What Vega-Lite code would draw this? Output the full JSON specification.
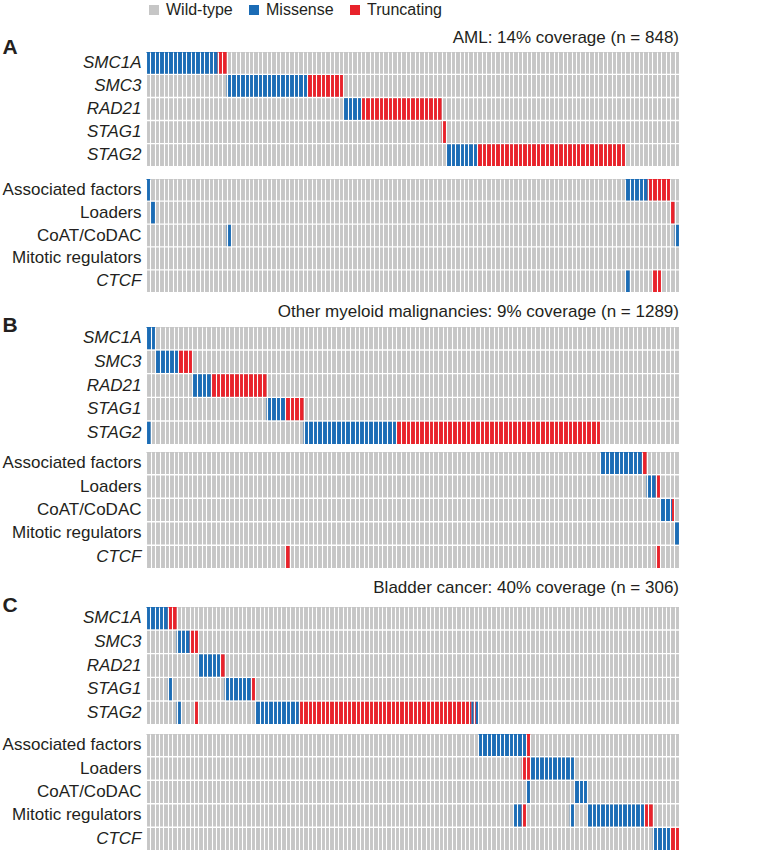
{
  "$schema": "https://vega.github.io/schema/vega-lite/v6.json",
  "padding": {"left": 2, "top": 2, "right": 2, "bottom": 0},
  "background": "white",
  "config": {
    "font": "Liberation Sans",
    "view": {"stroke": null},
    "title": {"font": "Liberation Sans", "fontSize": 17, "fontWeight": "normal", "anchor": "end", "frame": "group", "color": "#231f20"},
    "axisX": {"labels": false, "ticks": false, "domain": false, "title": null, "grid": true, "gridColor": "white", "gridWidth": 1.1, "gridOpacity": 1},
    "axisY": {"domain": false, "ticks": false, "labelFontSize": 17, "labelPadding": 5, "labelColor": "#231f20", "labelFont": "Liberation Sans"},
    "legend": {"orient": "top", "direction": "horizontal", "title": null, "symbolType": "square", "symbolSize": 100, "symbolStrokeWidth": 0, "labelFontSize": 16, "labelFont": "Liberation Sans", "labelColor": "#231f20", "columnPadding": 13, "labelOffset": 4, "offset": 11}
  },
  "datasets": {
    "cells": [
      {"p": "A", "b": 1, "row": "SMC1A", "start": 0, "end": 119, "type": "Wild-type"},
      {"p": "A", "b": 1, "row": "SMC3", "start": 0, "end": 119, "type": "Wild-type"},
      {"p": "A", "b": 1, "row": "RAD21", "start": 0, "end": 119, "type": "Wild-type"},
      {"p": "A", "b": 1, "row": "STAG1", "start": 0, "end": 119, "type": "Wild-type"},
      {"p": "A", "b": 1, "row": "STAG2", "start": 0, "end": 119, "type": "Wild-type"},
      {"p": "A", "b": 2, "row": "Associated factors", "start": 0, "end": 119, "type": "Wild-type"},
      {"p": "A", "b": 2, "row": "Loaders", "start": 0, "end": 119, "type": "Wild-type"},
      {"p": "A", "b": 2, "row": "CoAT/CoDAC", "start": 0, "end": 119, "type": "Wild-type"},
      {"p": "A", "b": 2, "row": "Mitotic regulators", "start": 0, "end": 119, "type": "Wild-type"},
      {"p": "A", "b": 2, "row": "CTCF", "start": 0, "end": 119, "type": "Wild-type"},
      {"p": "B", "b": 1, "row": "SMC1A", "start": 0, "end": 115, "type": "Wild-type"},
      {"p": "B", "b": 1, "row": "SMC3", "start": 0, "end": 115, "type": "Wild-type"},
      {"p": "B", "b": 1, "row": "RAD21", "start": 0, "end": 115, "type": "Wild-type"},
      {"p": "B", "b": 1, "row": "STAG1", "start": 0, "end": 115, "type": "Wild-type"},
      {"p": "B", "b": 1, "row": "STAG2", "start": 0, "end": 115, "type": "Wild-type"},
      {"p": "B", "b": 2, "row": "Associated factors", "start": 0, "end": 115, "type": "Wild-type"},
      {"p": "B", "b": 2, "row": "Loaders", "start": 0, "end": 115, "type": "Wild-type"},
      {"p": "B", "b": 2, "row": "CoAT/CoDAC", "start": 0, "end": 115, "type": "Wild-type"},
      {"p": "B", "b": 2, "row": "Mitotic regulators", "start": 0, "end": 115, "type": "Wild-type"},
      {"p": "B", "b": 2, "row": "CTCF", "start": 0, "end": 115, "type": "Wild-type"},
      {"p": "C", "b": 1, "row": "SMC1A", "start": 0, "end": 122, "type": "Wild-type"},
      {"p": "C", "b": 1, "row": "SMC3", "start": 0, "end": 122, "type": "Wild-type"},
      {"p": "C", "b": 1, "row": "RAD21", "start": 0, "end": 122, "type": "Wild-type"},
      {"p": "C", "b": 1, "row": "STAG1", "start": 0, "end": 122, "type": "Wild-type"},
      {"p": "C", "b": 1, "row": "STAG2", "start": 0, "end": 122, "type": "Wild-type"},
      {"p": "C", "b": 2, "row": "Associated factors", "start": 0, "end": 122, "type": "Wild-type"},
      {"p": "C", "b": 2, "row": "Loaders", "start": 0, "end": 122, "type": "Wild-type"},
      {"p": "C", "b": 2, "row": "CoAT/CoDAC", "start": 0, "end": 122, "type": "Wild-type"},
      {"p": "C", "b": 2, "row": "Mitotic regulators", "start": 0, "end": 122, "type": "Wild-type"},
      {"p": "C", "b": 2, "row": "CTCF", "start": 0, "end": 122, "type": "Wild-type"},

      {"p": "A", "b": 1, "row": "SMC1A", "start": 0, "end": 16, "type": "Missense"},
      {"p": "A", "b": 1, "row": "SMC1A", "start": 16, "end": 18, "type": "Truncating"},
      {"p": "A", "b": 1, "row": "SMC3", "start": 18, "end": 36, "type": "Missense"},
      {"p": "A", "b": 1, "row": "SMC3", "start": 36, "end": 44, "type": "Truncating"},
      {"p": "A", "b": 1, "row": "RAD21", "start": 44, "end": 48, "type": "Missense"},
      {"p": "A", "b": 1, "row": "RAD21", "start": 48, "end": 66, "type": "Truncating"},
      {"p": "A", "b": 1, "row": "STAG1", "start": 66, "end": 67, "type": "Truncating"},
      {"p": "A", "b": 1, "row": "STAG2", "start": 67, "end": 74, "type": "Missense"},
      {"p": "A", "b": 1, "row": "STAG2", "start": 74, "end": 107, "type": "Truncating"},
      {"p": "A", "b": 2, "row": "Associated factors", "start": 0, "end": 1, "type": "Missense"},
      {"p": "A", "b": 2, "row": "Associated factors", "start": 107, "end": 112, "type": "Missense"},
      {"p": "A", "b": 2, "row": "Associated factors", "start": 112, "end": 117, "type": "Truncating"},
      {"p": "A", "b": 2, "row": "Loaders", "start": 1, "end": 2, "type": "Missense"},
      {"p": "A", "b": 2, "row": "Loaders", "start": 117, "end": 118, "type": "Truncating"},
      {"p": "A", "b": 2, "row": "CoAT/CoDAC", "start": 18, "end": 19, "type": "Missense"},
      {"p": "A", "b": 2, "row": "CoAT/CoDAC", "start": 118, "end": 119, "type": "Missense"},
      {"p": "A", "b": 2, "row": "CTCF", "start": 107, "end": 108, "type": "Missense"},
      {"p": "A", "b": 2, "row": "CTCF", "start": 113, "end": 115, "type": "Truncating"},

      {"p": "B", "b": 1, "row": "SMC1A", "start": 0, "end": 2, "type": "Missense"},
      {"p": "B", "b": 1, "row": "SMC3", "start": 2, "end": 7, "type": "Missense"},
      {"p": "B", "b": 1, "row": "SMC3", "start": 7, "end": 10, "type": "Truncating"},
      {"p": "B", "b": 1, "row": "RAD21", "start": 10, "end": 14, "type": "Missense"},
      {"p": "B", "b": 1, "row": "RAD21", "start": 14, "end": 26, "type": "Truncating"},
      {"p": "B", "b": 1, "row": "STAG1", "start": 26, "end": 30, "type": "Missense"},
      {"p": "B", "b": 1, "row": "STAG1", "start": 30, "end": 34, "type": "Truncating"},
      {"p": "B", "b": 1, "row": "STAG2", "start": 0, "end": 1, "type": "Missense"},
      {"p": "B", "b": 1, "row": "STAG2", "start": 34, "end": 54, "type": "Missense"},
      {"p": "B", "b": 1, "row": "STAG2", "start": 54, "end": 98, "type": "Truncating"},
      {"p": "B", "b": 2, "row": "Associated factors", "start": 98, "end": 107, "type": "Missense"},
      {"p": "B", "b": 2, "row": "Associated factors", "start": 107, "end": 108, "type": "Truncating"},
      {"p": "B", "b": 2, "row": "Loaders", "start": 108, "end": 110, "type": "Missense"},
      {"p": "B", "b": 2, "row": "Loaders", "start": 110, "end": 111, "type": "Truncating"},
      {"p": "B", "b": 2, "row": "CoAT/CoDAC", "start": 111, "end": 113.5, "type": "Missense"},
      {"p": "B", "b": 2, "row": "CoAT/CoDAC", "start": 113.5, "end": 114, "type": "Truncating"},
      {"p": "B", "b": 2, "row": "Mitotic regulators", "start": 114, "end": 115, "type": "Missense"},
      {"p": "B", "b": 2, "row": "CTCF", "start": 30, "end": 31, "type": "Truncating"},
      {"p": "B", "b": 2, "row": "CTCF", "start": 110, "end": 111, "type": "Truncating"},

      {"p": "C", "b": 1, "row": "SMC1A", "start": 0, "end": 5, "type": "Missense"},
      {"p": "C", "b": 1, "row": "SMC1A", "start": 5, "end": 7, "type": "Truncating"},
      {"p": "C", "b": 1, "row": "SMC3", "start": 7, "end": 10, "type": "Missense"},
      {"p": "C", "b": 1, "row": "SMC3", "start": 10, "end": 12, "type": "Truncating"},
      {"p": "C", "b": 1, "row": "RAD21", "start": 12, "end": 17, "type": "Missense"},
      {"p": "C", "b": 1, "row": "RAD21", "start": 17, "end": 18, "type": "Truncating"},
      {"p": "C", "b": 1, "row": "STAG1", "start": 5, "end": 6, "type": "Missense"},
      {"p": "C", "b": 1, "row": "STAG1", "start": 18, "end": 24, "type": "Missense"},
      {"p": "C", "b": 1, "row": "STAG1", "start": 24, "end": 25, "type": "Truncating"},
      {"p": "C", "b": 1, "row": "STAG2", "start": 7, "end": 8, "type": "Missense"},
      {"p": "C", "b": 1, "row": "STAG2", "start": 11, "end": 12, "type": "Truncating"},
      {"p": "C", "b": 1, "row": "STAG2", "start": 25, "end": 35, "type": "Missense"},
      {"p": "C", "b": 1, "row": "STAG2", "start": 35, "end": 74.5, "type": "Truncating"},
      {"p": "C", "b": 1, "row": "STAG2", "start": 74.5, "end": 75, "type": "Missense"},
      {"p": "C", "b": 1, "row": "STAG2", "start": 75, "end": 75.5, "type": "Truncating"},
      {"p": "C", "b": 1, "row": "STAG2", "start": 75.5, "end": 76, "type": "Missense"},
      {"p": "C", "b": 2, "row": "Associated factors", "start": 76, "end": 87, "type": "Missense"},
      {"p": "C", "b": 2, "row": "Associated factors", "start": 87, "end": 88, "type": "Truncating"},
      {"p": "C", "b": 2, "row": "Loaders", "start": 86, "end": 88, "type": "Truncating"},
      {"p": "C", "b": 2, "row": "Loaders", "start": 88, "end": 98, "type": "Missense"},
      {"p": "C", "b": 2, "row": "CoAT/CoDAC", "start": 87, "end": 88, "type": "Missense"},
      {"p": "C", "b": 2, "row": "CoAT/CoDAC", "start": 98, "end": 101, "type": "Missense"},
      {"p": "C", "b": 2, "row": "Mitotic regulators", "start": 84, "end": 86, "type": "Missense"},
      {"p": "C", "b": 2, "row": "Mitotic regulators", "start": 86, "end": 87, "type": "Truncating"},
      {"p": "C", "b": 2, "row": "Mitotic regulators", "start": 97, "end": 98, "type": "Missense"},
      {"p": "C", "b": 2, "row": "Mitotic regulators", "start": 101, "end": 114, "type": "Missense"},
      {"p": "C", "b": 2, "row": "Mitotic regulators", "start": 114, "end": 116, "type": "Truncating"},
      {"p": "C", "b": 2, "row": "CTCF", "start": 116, "end": 120, "type": "Missense"},
      {"p": "C", "b": 2, "row": "CTCF", "start": 120, "end": 122, "type": "Truncating"}
    ]
  },
  "spacing": 11,
  "vconcat": [
    {
      "spacing": 13,
      "vconcat": [
        {
          "width": 533, "height": 114,
          "title": {"text": "AML: 14% coverage (n = 848)", "offset": -11},
          "data": {"name": "cells"},
          "transform": [{"filter": "datum.p == 'A' && datum.b == 1"}],
          "encoding": {
            "x": {"field": "start", "type": "quantitative", "scale": {"domain": [0, 119], "nice": false, "zero": false}, "axis": {"tickCount": 119, "grid": true, "zindex": 1}},
            "x2": {"field": "end"},
            "y": {"field": "row", "type": "nominal", "sort": ["SMC1A", "SMC3", "RAD21", "STAG1", "STAG2"], "scale": {"paddingInner": 0.06, "paddingOuter": 0},
                  "axis": {"labelFontStyle": "italic", "title": "A", "titleAngle": 0, "titleFontSize": 21, "titleFontWeight": "bold", "titleX": -144, "titleY": 1, "titleAlign": "left", "titleBaseline": "alphabetic", "titleColor": "#231f20"}},
            "color": {"field": "type", "type": "nominal", "scale": {"domain": ["Wild-type", "Missense", "Truncating"], "range": ["#c6c6c6", "#1b6cb5", "#e8222b"]}}
          },
          "layer": [
            {"transform": [{"filter": "datum.type == 'Wild-type'"}], "mark": {"type": "bar"}},
            {"transform": [{"filter": "datum.type != 'Wild-type'"}], "mark": {"type": "bar"}}
          ]
        },
        {
          "width": 533, "height": 113,
          "data": {"name": "cells"},
          "transform": [{"filter": "datum.p == 'A' && datum.b == 2"}],
          "encoding": {
            "x": {"field": "start", "type": "quantitative", "scale": {"domain": [0, 119], "nice": false, "zero": false}, "axis": {"tickCount": 119, "grid": true, "zindex": 1}},
            "x2": {"field": "end"},
            "y": {"field": "row", "type": "nominal", "sort": ["Associated factors", "Loaders", "CoAT/CoDAC", "Mitotic regulators", "CTCF"], "scale": {"paddingInner": 0.06, "paddingOuter": 0},
                  "axis": {"title": null, "labelFontStyle": {"condition": {"test": "datum.value == 'CTCF'", "value": "italic"}, "value": "normal"}}},
            "color": {"field": "type", "type": "nominal", "scale": {"domain": ["Wild-type", "Missense", "Truncating"], "range": ["#c6c6c6", "#1b6cb5", "#e8222b"]}}
          },
          "layer": [
            {"transform": [{"filter": "datum.type == 'Wild-type'"}], "mark": {"type": "bar"}},
            {"transform": [{"filter": "datum.type != 'Wild-type'"}], "mark": {"type": "bar"}}
          ]
        }
      ]
    },
    {
      "spacing": 8,
      "vconcat": [
        {
          "width": 533, "height": 117,
          "title": {"text": "Other myeloid malignancies: 9% coverage (n = 1289)", "offset": -7},
          "data": {"name": "cells"},
          "transform": [{"filter": "datum.p == 'B' && datum.b == 1"}],
          "encoding": {
            "x": {"field": "start", "type": "quantitative", "scale": {"domain": [0, 115], "nice": false, "zero": false}, "axis": {"tickCount": 115, "grid": true, "zindex": 1}},
            "x2": {"field": "end"},
            "y": {"field": "row", "type": "nominal", "sort": ["SMC1A", "SMC3", "RAD21", "STAG1", "STAG2"], "scale": {"paddingInner": 0.06, "paddingOuter": 0},
                  "axis": {"labelFontStyle": "italic", "title": "B", "titleAngle": 0, "titleFontSize": 21, "titleFontWeight": "bold", "titleX": -144, "titleY": 4, "titleAlign": "left", "titleBaseline": "alphabetic", "titleColor": "#231f20"}},
            "color": {"field": "type", "type": "nominal", "scale": {"domain": ["Wild-type", "Missense", "Truncating"], "range": ["#c6c6c6", "#1b6cb5", "#e8222b"]}}
          },
          "layer": [
            {"transform": [{"filter": "datum.type == 'Wild-type'"}], "mark": {"type": "bar"}},
            {"transform": [{"filter": "datum.type != 'Wild-type'"}], "mark": {"type": "bar"}}
          ]
        },
        {
          "width": 533, "height": 116,
          "data": {"name": "cells"},
          "transform": [{"filter": "datum.p == 'B' && datum.b == 2"}],
          "encoding": {
            "x": {"field": "start", "type": "quantitative", "scale": {"domain": [0, 115], "nice": false, "zero": false}, "axis": {"tickCount": 115, "grid": true, "zindex": 1}},
            "x2": {"field": "end"},
            "y": {"field": "row", "type": "nominal", "sort": ["Associated factors", "Loaders", "CoAT/CoDAC", "Mitotic regulators", "CTCF"], "scale": {"paddingInner": 0.06, "paddingOuter": 0},
                  "axis": {"title": null, "labelFontStyle": {"condition": {"test": "datum.value == 'CTCF'", "value": "italic"}, "value": "normal"}}},
            "color": {"field": "type", "type": "nominal", "scale": {"domain": ["Wild-type", "Missense", "Truncating"], "range": ["#c6c6c6", "#1b6cb5", "#e8222b"]}}
          },
          "layer": [
            {"transform": [{"filter": "datum.type == 'Wild-type'"}], "mark": {"type": "bar"}},
            {"transform": [{"filter": "datum.type != 'Wild-type'"}], "mark": {"type": "bar"}}
          ]
        }
      ]
    },
    {
      "spacing": 10,
      "vconcat": [
        {
          "width": 533, "height": 117,
          "title": {"text": "Bladder cancer: 40% coverage (n = 306)", "offset": -3},
          "data": {"name": "cells"},
          "transform": [{"filter": "datum.p == 'C' && datum.b == 1"}],
          "encoding": {
            "x": {"field": "start", "type": "quantitative", "scale": {"domain": [0, 122], "nice": false, "zero": false}, "axis": {"tickCount": 122, "grid": true, "zindex": 1}},
            "x2": {"field": "end"},
            "y": {"field": "row", "type": "nominal", "sort": ["SMC1A", "SMC3", "RAD21", "STAG1", "STAG2"], "scale": {"paddingInner": 0.06, "paddingOuter": 0},
                  "axis": {"labelFontStyle": "italic", "title": "C", "titleAngle": 0, "titleFontSize": 21, "titleFontWeight": "bold", "titleX": -144, "titleY": 4, "titleAlign": "left", "titleBaseline": "alphabetic", "titleColor": "#231f20"}},
            "color": {"field": "type", "type": "nominal", "scale": {"domain": ["Wild-type", "Missense", "Truncating"], "range": ["#c6c6c6", "#1b6cb5", "#e8222b"]}}
          },
          "layer": [
            {"transform": [{"filter": "datum.type == 'Wild-type'"}], "mark": {"type": "bar"}},
            {"transform": [{"filter": "datum.type != 'Wild-type'"}], "mark": {"type": "bar"}}
          ]
        },
        {
          "width": 533, "height": 116,
          "data": {"name": "cells"},
          "transform": [{"filter": "datum.p == 'C' && datum.b == 2"}],
          "encoding": {
            "x": {"field": "start", "type": "quantitative", "scale": {"domain": [0, 122], "nice": false, "zero": false}, "axis": {"tickCount": 122, "grid": true, "zindex": 1}},
            "x2": {"field": "end"},
            "y": {"field": "row", "type": "nominal", "sort": ["Associated factors", "Loaders", "CoAT/CoDAC", "Mitotic regulators", "CTCF"], "scale": {"paddingInner": 0.06, "paddingOuter": 0},
                  "axis": {"title": null, "labelFontStyle": {"condition": {"test": "datum.value == 'CTCF'", "value": "italic"}, "value": "normal"}}},
            "color": {"field": "type", "type": "nominal", "scale": {"domain": ["Wild-type", "Missense", "Truncating"], "range": ["#c6c6c6", "#1b6cb5", "#e8222b"]}}
          },
          "layer": [
            {"transform": [{"filter": "datum.type == 'Wild-type'"}], "mark": {"type": "bar"}},
            {"transform": [{"filter": "datum.type != 'Wild-type'"}], "mark": {"type": "bar"}}
          ]
        }
      ]
    }
  ]
}
